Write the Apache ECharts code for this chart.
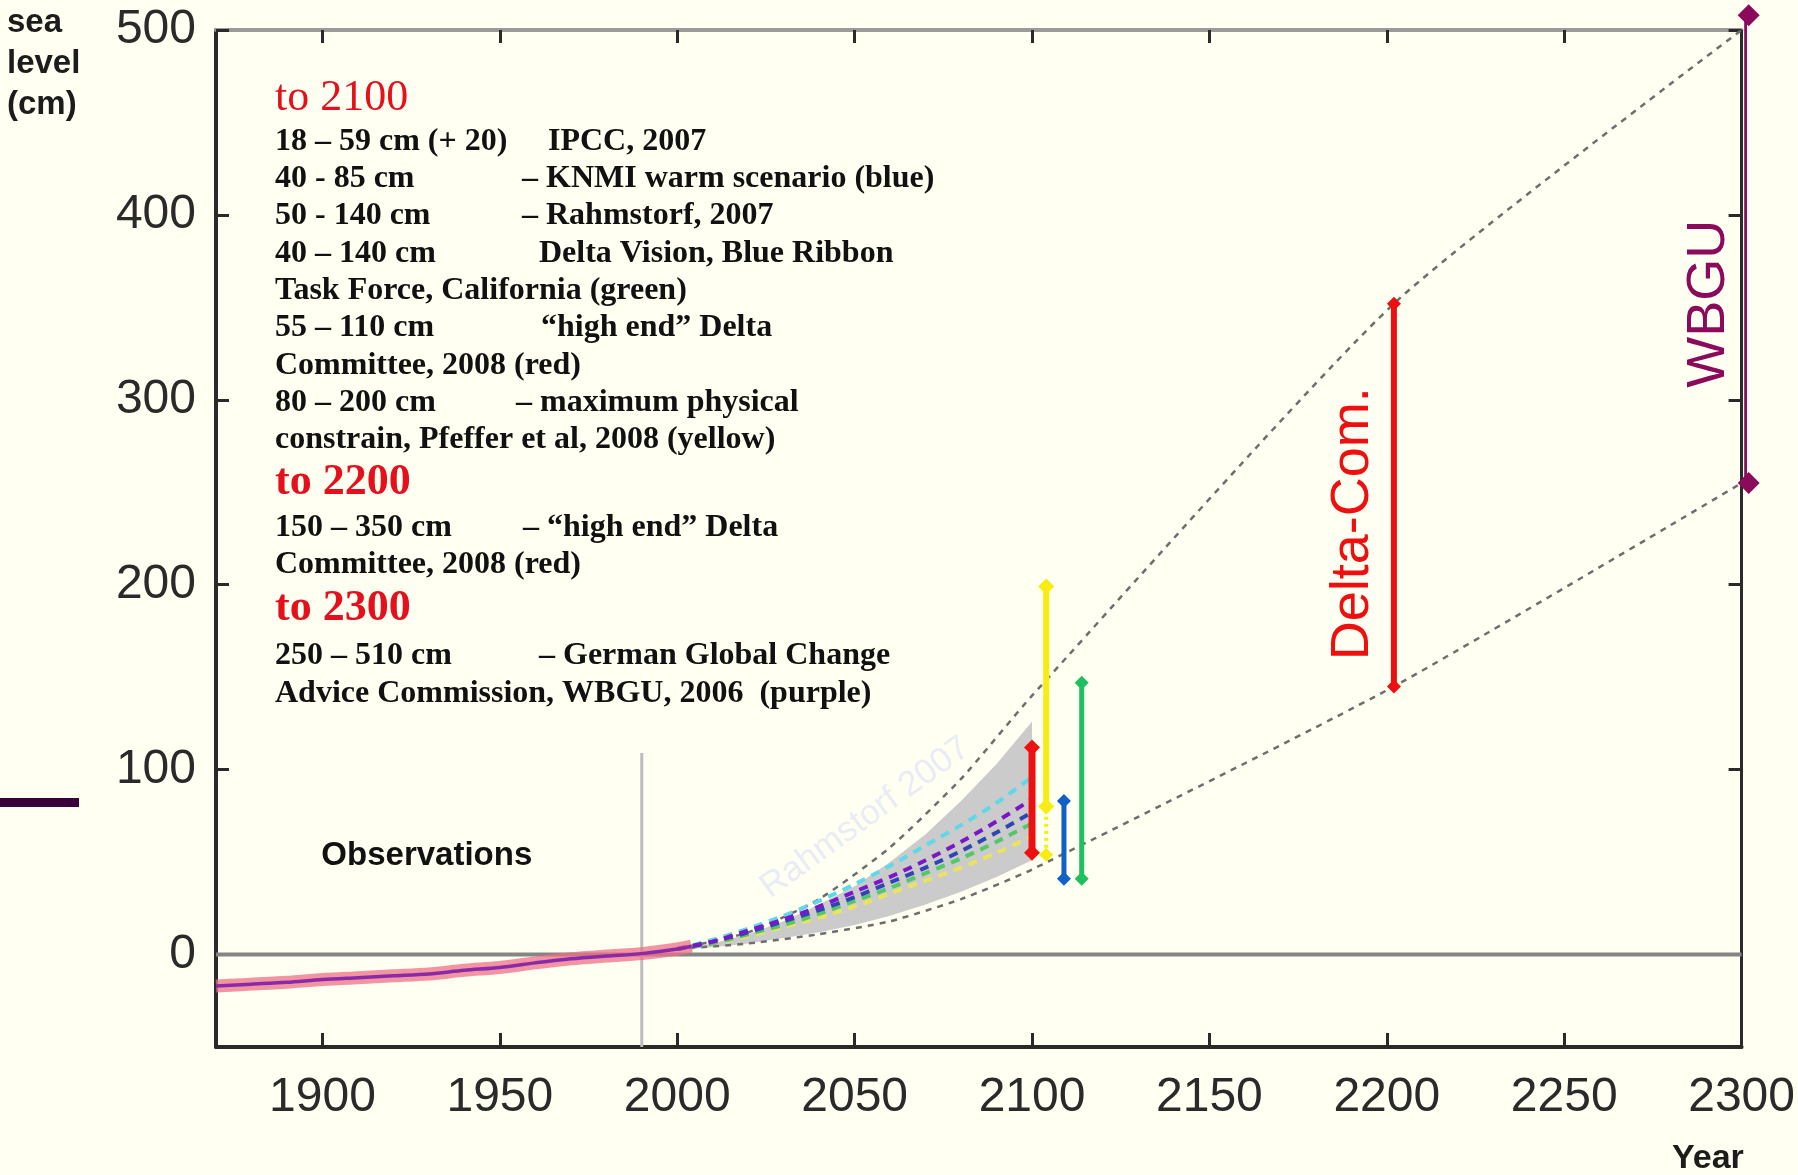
<!DOCTYPE html>
<html>
<head>
<meta charset="utf-8">
<script src="https://cdn.jsdelivr.net/npm/echarts@6/dist/echarts.min.js"></script>
<style>
html,body{margin:0;padding:0;background:#fffff2;}
#chart{width:1798px;height:1175px;}
</style>
</head>
<body>
<div id="chart"></div>
<script>
// ---------- data ----------
const xTicks = [1900, 1950, 2000, 2050, 2100, 2150, 2200, 2250, 2300];
const yTicks = [0, 100, 200, 300, 400, 500];

// observed sea level (cm)
const obsYears = [1870, 1880, 1890, 1900, 1910, 1920, 1930, 1940, 1950, 1960, 1970, 1980, 1990, 2000, 2004];
const obsLevel = [-17, -16, -15, -13.5, -12.5, -11.5, -10.5, -8.5, -7, -4.5, -2.3, -0.8, 0.5, 3, 4.5];

// projections 2000-2100
const projYears = [2000, 2010, 2020, 2030, 2040, 2050, 2060, 2070, 2080, 2090, 2100];
const cyanProj   = [3, 8, 14, 21, 29, 38, 48, 59, 70, 82, 96];
const purpleProj = [3, 7, 13, 19, 26, 34, 42, 51, 61, 72, 84];
const blueProj   = [3, 7, 12, 18, 24, 31, 39, 47, 56, 66, 77];
const greenProj  = [3, 6, 11, 16, 22, 29, 36, 44, 52, 61, 71];
const yellowProj = [3, 6, 10, 15, 20, 26, 33, 40, 47, 55, 64];
// Rahmstorf 2007 range (grey band)
const bandUpper  = [3, 6, 11, 18, 27, 37, 50, 65, 83, 103, 126];
const bandLower  = [3, 4, 6, 9, 12, 16, 21, 27, 34, 42, 51];

// outer envelope (dashed grey)
const envYears = [2000, 2020, 2040, 2060, 2080, 2100, 2202, 2300];
const envUpper = [3, 12, 30, 58, 95, 140, 352, 500];
const envLower = [3, 6, 11, 18, 30, 46, 145, 255];

// range bars [year, low, high]
const redBar    = [2100, 55, 112];
const yellowBar = [2104, 80, 199];
const yellowLow = [2104, 54, 80];
const blueBar   = [2109, 41, 83];
const greenBar  = [2114, 41, 147];
const deltaBar  = [2202, 145, 352];
const wbguBar   = [2302, 255, 508];

// reference lines
const zeroLine = [[1870, 0], [2300, 0]];
const refYear = [[1990, -50], [1990, 109]];

// annotation labels [year, level, text]
const lblDelta = [2190.6, 233, 'Delta-Com.'];
const lblWbgu  = [2290.8, 352, 'WBGU'];
const lblObs   = [1899.7, 53.6, 'Observations'];
const lblRahm  = [2053, 74, 'Rahmstorf 2007'];

// text block
const noteLines = [
  ['to 2100', ''],
  ['18 – 59 cm (+ 20)', 'IPCC, 2007'],
  ['40 - 85 cm', '– KNMI warm scenario (blue)'],
  ['50 - 140 cm', '– Rahmstorf, 2007'],
  ['40 – 140 cm', 'Delta Vision, Blue Ribbon'],
  ['Task Force, California (green)', ''],
  ['55 – 110 cm', '“high end” Delta'],
  ['Committee, 2008 (red)', ''],
  ['80 – 200 cm', '– maximum physical'],
  ['constrain, Pfeffer et al, 2008 (yellow)', ''],
  ['to 2200', ''],
  ['150 – 350 cm', '– “high end” Delta'],
  ['Committee, 2008 (red)', ''],
  ['to 2300', ''],
  ['250 – 510 cm', '– German Global Change'],
  ['Advice Commission, WBGU, 2006  (purple)', '']
];

// ---------- layout / style ----------
const SANS = "'Liberation Sans', Arial, sans-serif";
const SERIF = "'Liberation Serif', 'Times New Roman', serif";
const noteY = [100, 143, 180, 217, 255, 292, 329, 367, 404, 441, 485, 529, 566, 611, 657, 695];
const noteX2 = [0, 548, 522, 522, 539, 0, 541, 0, 516, 0, 0, 523, 0, 0, 539, 0];
const noteHeader = [true, false, false, false, false, false, false, false, false, false, true, false, false, true, false, false];

const pairs = (xs, ys) => xs.map((x, i) => [x, ys[i]]);
const bar = (b) => [[b[0], b[1]], [b[0], b[2]]];

function dashed(name, ys, color) {
  return {
    name, type: 'line', data: pairs(projYears, ys), symbol: 'none', smooth: 0.3,
    lineStyle: {color, width: 4, type: [9, 7]}, z: 4
  };
}
function rangeBar(name, b, color, width, size, extra) {
  return Object.assign({
    name, type: 'line', data: bar(b), symbol: 'diamond', symbolSize: size,
    itemStyle: {color}, lineStyle: {color, width}, clip: false, z: 6
  }, extra || {});
}
function textLabel(l, color, size, rotate, weight, align) {
  return {
    type: 'scatter', data: [[l[0], l[1]]], symbolSize: 0, silent: true, z: 8, clip: false,
    itemStyle: {opacity: 1},
    label: {
      show: true, position: align === 'left' ? 'right' : 'inside', distance: 0,
      formatter: l[2], color, fontSize: size, fontFamily: SANS, fontWeight: weight || 'normal',
      rotate: rotate || 0, textBorderWidth: 0
    }
  };
}

const graphics = [];
noteLines.forEach((ln, i) => {
  if (noteHeader[i]) {
    graphics.push({type: 'text', left: 275, top: noteY[i] - 24, z: 100,
      style: {text: ln[0], fill: '#e5101c', font: (i === 0 ? 'normal' : 'bold') + ' 44px ' + SERIF}});
  } else {
    graphics.push({type: 'text', left: 275, top: noteY[i] - 17, z: 100,
      style: {text: ln[0], fill: '#111', font: 'bold 32px ' + SERIF}});
    if (ln[1]) graphics.push({type: 'text', left: noteX2[i], top: noteY[i] - 17, z: 100,
      style: {text: ln[1], fill: '#111', font: 'bold 32px ' + SERIF}});
  }
});
graphics.push({type: 'text', left: 7, top: 2, z: 100,
  style: {text: 'sea\nlevel\n(cm)', fill: '#1c1c1c', font: 'bold 33px ' + SANS, lineHeight: 41}});
graphics.push({type: 'text', left: 1672, top: 1142, z: 100,
  style: {text: 'Year', fill: '#1c1c1c', font: 'bold 34px ' + SANS}});
graphics.push({type: 'rect', left: 0, top: 798, z: 100, shape: {width: 79, height: 9}, style: {fill: '#3a0038'}});

const plain = (v) => String(v);

const chart = echarts.init(document.getElementById('chart'), null, {renderer: 'canvas'});
chart.setOption({
  backgroundColor: '#fffff2',
  animation: false,
  grid: {left: 216, right: 47, top: 30, bottom: 128, containLabel: false},
  xAxis: [{
    type: 'value', min: 1870, max: 2300, position: 'bottom',
    axisLine: {onZero: false, lineStyle: {color: '#2a2a2a', width: 4}},
    axisTick: {inside: true, length: 14, customValues: xTicks, lineStyle: {color: '#2a2a2a', width: 3}},
    axisLabel: {customValues: xTicks, formatter: plain, fontSize: 48, color: '#2a2a2a', margin: 27, fontFamily: SANS},
    splitLine: {show: false}
  }, {
    type: 'value', min: 1870, max: 2300, position: 'top',
    axisLine: {onZero: false, lineStyle: {color: '#9a9a9a', width: 4}},
    axisTick: {inside: true, length: 13, customValues: xTicks, lineStyle: {color: '#2a2a2a', width: 3}},
    axisLabel: {show: false}, splitLine: {show: false}
  }],
  yAxis: [{
    type: 'value', min: -50, max: 500, position: 'left',
    axisLine: {onZero: false, lineStyle: {color: '#2a2a2a', width: 4}},
    axisTick: {inside: true, length: 13, customValues: yTicks, lineStyle: {color: '#2a2a2a', width: 3}},
    axisLabel: {customValues: yTicks, formatter: plain, fontSize: 48, color: '#2a2a2a', margin: 20, fontFamily: SANS},
    splitLine: {show: false}
  }, {
    type: 'value', min: -50, max: 500, position: 'right',
    axisLine: {onZero: false, lineStyle: {color: '#2a2a2a', width: 3}},
    axisTick: {inside: true, length: 13, customValues: yTicks, lineStyle: {color: '#2a2a2a', width: 3}},
    axisLabel: {show: false}, splitLine: {show: false}
  }],
  graphic: graphics,
  series: [
    {name: 'zero', type: 'line', data: zeroLine, symbol: 'none', lineStyle: {color: '#858585', width: 4}, z: 1},
    {name: '1990', type: 'line', data: refYear, symbol: 'none', lineStyle: {color: '#bdbdbd', width: 3}, z: 1},
    {
      name: 'Rahmstorf range', type: 'custom', data: [[2000, 0]], z: 2, silent: true,
      renderItem: (params, api) => {
        const pts = [];
        projYears.forEach((yr, i) => pts.push(api.coord([yr, bandUpper[i]])));
        for (let i = projYears.length - 1; i >= 0; i--) pts.push(api.coord([projYears[i], bandLower[i]]));
        return {type: 'polygon', shape: {points: pts}, style: {fill: '#cbcbcb'}};
      }
    },
    {name: 'env upper', type: 'line', data: pairs(envYears, envUpper), symbol: 'none', smooth: 0.2,
      lineStyle: {color: '#6e6e6e', width: 2.5, type: [6, 6]}, z: 3},
    {name: 'env lower', type: 'line', data: pairs(envYears, envLower), symbol: 'none', smooth: 0.2,
      lineStyle: {color: '#6e6e6e', width: 2.5, type: [6, 6]}, z: 3},
    dashed('cyan', cyanProj, '#5fd8ea'),
    dashed('yellow', yellowProj, '#ece35a'),
    dashed('green', greenProj, '#55c865'),
    dashed('blue', blueProj, '#2f45b5'),
    dashed('purple', purpleProj, '#7a18c8'),
    {name: 'obs band', type: 'line', data: pairs(obsYears, obsLevel), symbol: 'none', smooth: 0.3,
      lineStyle: {color: 'rgba(238,112,135,0.75)', width: 13}, z: 4},
    {name: 'obs', type: 'line', data: pairs(obsYears, obsLevel), symbol: 'none', smooth: 0.3,
      lineStyle: {color: '#8a2aa6', width: 3.5}, z: 5},
    rangeBar('yellow low', yellowLow, '#f5ee10', 4, 14, {lineStyle: {color: '#f5ee10', width: 4, type: [3, 4]}}),
    rangeBar('yellow bar', yellowBar, '#f5ee10', 6, 16),
    rangeBar('red bar', redBar, '#ee1010', 7, 16),
    rangeBar('blue bar', blueBar, '#1060c8', 5, 14),
    rangeBar('green bar', greenBar, '#20c060', 5, 14),
    rangeBar('delta bar', deltaBar, '#ee1010', 6, 14),
    rangeBar('wbgu bar', wbguBar, '#8c0a5c', 9, 22),
    textLabel(lblDelta, '#ee1010', 54, 90),
    textLabel(lblWbgu, '#8c0a5c', 54, 90),
    textLabel(lblObs, '#111111', 33, 0, 'bold', 'left'),
    textLabel(lblRahm, 'rgba(228,234,246,0.85)', 35, 36)
  ]
});
</script>
</body>
</html>
